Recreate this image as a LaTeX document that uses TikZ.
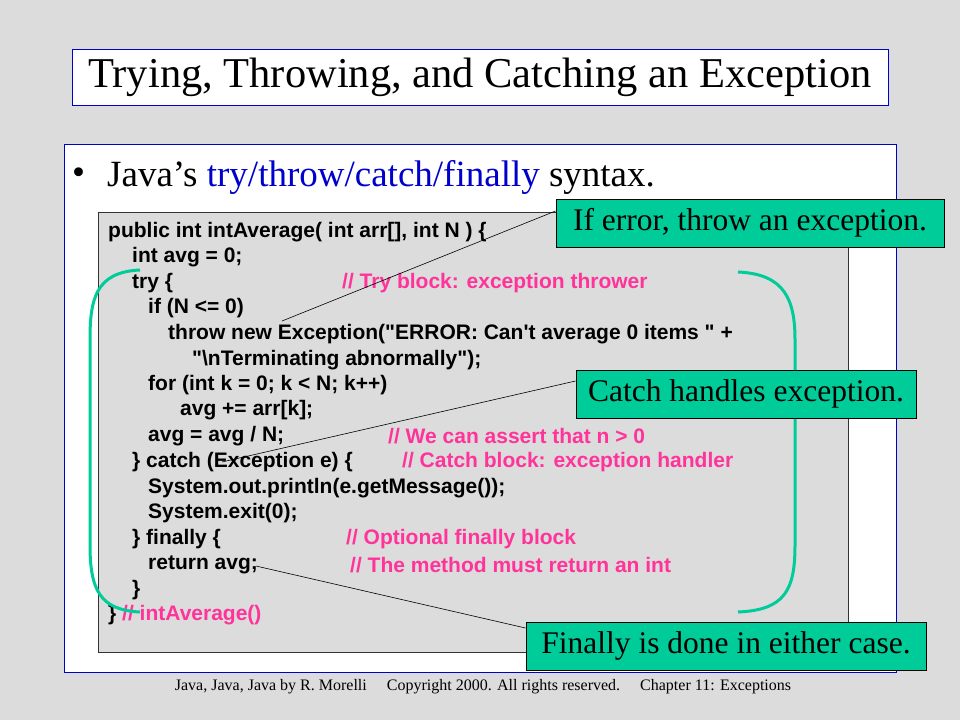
\documentclass[tikz,border=0pt]{standalone}
\usepackage{fontspec}
\setmainfont{Liberation Serif}
\newfontfamily\codefont{Liberation Sans}
\definecolor{bg}{HTML}{DCDCDC}
\definecolor{navy}{HTML}{0000CC}
\definecolor{tealc}{HTML}{00CC99}
\definecolor{magc}{HTML}{FF3399}
\begin{document}
\begin{tikzpicture}[x=1pt,y=-1pt,
 code/.style={anchor=west,inner sep=0pt,font=\codefont\bfseries\fontsize{21}{24}\selectfont},
 cmt/.style={code,text=magc},
 callout/.style={draw=black,fill=tealc,line width=1pt,font=\fontsize{31.5}{34}\selectfont,inner sep=0pt},
 brk/.style={draw=tealc,line width=3pt},
 lead/.style={draw=black,line width=0.6pt}]
\fill[bg] (0,0) rectangle (960,720);
\useasboundingbox (0,0) rectangle (960,720);
\node[draw=navy,fill=white,line width=1pt,minimum width=816pt,minimum height=56pt,font=\fontsize{42.5}{46}\selectfont] (title) at (480,77) {Trying, Throwing, and Catching an Exception};
\draw[navy,fill=white,line width=1pt] (64,144) rectangle (896,672);
\node[anchor=west,inner sep=0pt,font=\fontsize{37}{40}\selectfont] (bul) at (72,176) {\textbullet};
\node[anchor=west,inner sep=0pt,font=\fontsize{37}{40}\selectfont] (head) at (107,177) {Java’s \textcolor{navy}{try/throw/catch/finally} syntax.};
\draw[fill=bg,draw=black!80,line width=0.8pt] (98,212) rectangle (848,652);
\node[code] (l1) at (108,232) {public int intAverage( int arr[], int N ) \{};
\node[code] (l2) at (132,257) {int avg = 0;};
\node[code] (l3) at (132,283) {try \{};
\node[cmt] at (342,283) {// Try block: exception thrower};
\node[code] (l4) at (148,308) {if (N <= 0)};
\node[code] (l5) at (168,334) {throw new Exception("ERROR: Can't average 0 items " +};
\node[code] (l6) at (192,360) {"\textbackslash nTerminating abnormally");};
\node[code] (l7) at (148,385) {for (int k = 0; k < N; k++)};
\node[code] (l8) at (180,410) {avg += arr[k];};
\node[code] (l9) at (148,436) {avg = avg / N;};
\node[cmt] at (388,436) {// We can assert that n > 0};
\node[code] (l10) at (132,462) {\} catch (Exception e) \{};
\node[cmt] at (402,462) {// Catch block: exception handler};
\node[code] (l11) at (148,488) {System.out.println(e.getMessage());};
\node[code] (l12) at (148,513) {System.exit(0);};
\node[code] (l13) at (132,539) {\} finally \{};
\node[cmt] at (346,539) {// Optional finally block};
\node[code] (l14) at (148,565) {return avg;};
\node[cmt] at (350,565) {// The method must return an int};
\node[code] (l15) at (132,590) {\}};
\node[code] (l16) at (108,615) {\} \textcolor{magc}{// intAverage()}};
% brackets
\draw[brk] (140,270) .. controls (95,272) and (90,300) .. (90,340) -- (90,545) .. controls (90,590) and (100,610) .. (140,612);
\draw[brk] (738,272) .. controls (785,274) and (795,300) .. (795,340) -- (795,545) .. controls (795,590) and (785,610) .. (738,612);
% callouts
\node[callout,minimum width=388pt,minimum height=48pt] (c1) at (750,223) {If error, throw an exception.};
\node[callout,minimum width=340pt,minimum height=48pt] (c2) at (746,394) {Catch handles exception.};
\node[callout,minimum width=400pt,minimum height=48pt] (c3) at (726,646) {Finally is done in either case.};
\coordinate (p1) at (282,321);
\coordinate (p2) at (222,462);
\coordinate (p3) at (256,566);
\draw[lead] (p1) -- (c1.west |- 0,211);
\draw[lead] (p2) -- (c2.west |- 0,381);
\draw[lead] (p3) -- (c3.west |- 0,628);
\node[inner sep=0pt,font=\fontsize{16}{18}\selectfont] (foot) at (483,687) {Java, Java, Java by R. Morelli\quad\ Copyright 2000. All rights reserved.\quad\ Chapter 11: Exceptions};
\end{tikzpicture}
\end{document}
